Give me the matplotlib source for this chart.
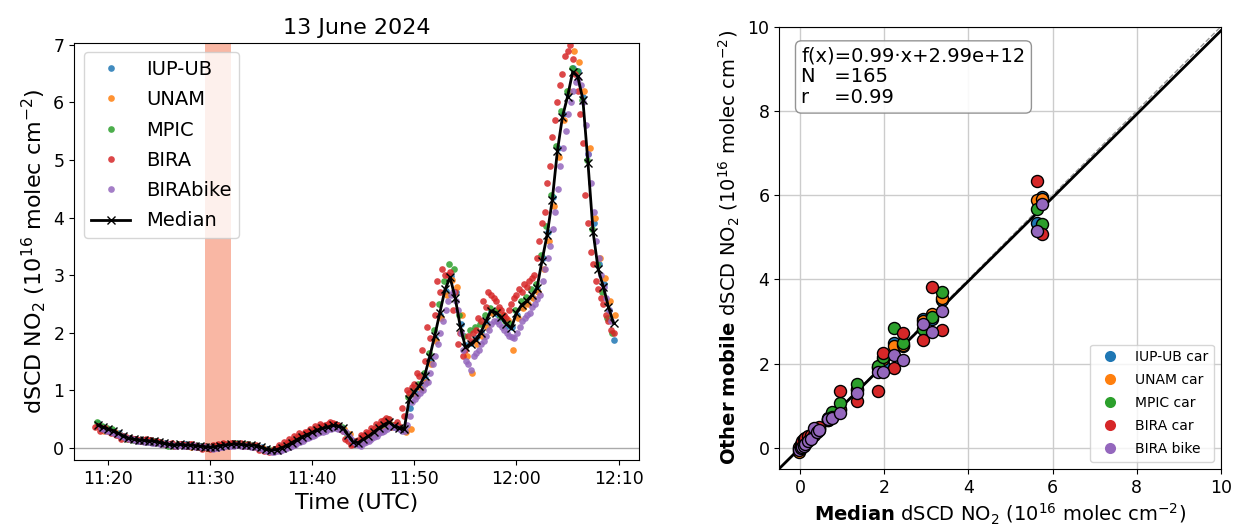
import numpy as np
import pandas as pd
import matplotlib
matplotlib.use("Agg")
import matplotlib.pyplot as plt
import matplotlib.dates as mdates
from matplotlib.lines import Line2D

# ---------------- data: time series (10^16 molec cm^-2) ----------------
start_time = "2024-06-13 11:19:00"
step_min = 0.5

median_vals = [0.40, 0.36, 0.33, 0.30, 0.25, 0.21, 0.17, 0.15, 0.14, 0.13,
               0.12, 0.12, 0.10, 0.08, 0.06, 0.05, 0.06, 0.05, 0.05, 0.04,
               0.03, 0.02, 0.01, 0.02, 0.04, 0.05, 0.06, 0.07, 0.06, 0.05,
               0.05, 0.04, 0.01, -0.02, -0.04, -0.03, 0.00, 0.04, 0.09, 0.14,
               0.19, 0.23, 0.27, 0.31, 0.34, 0.36, 0.39, 0.38, 0.35, 0.22,
               0.10, 0.09, 0.15, 0.20, 0.27, 0.34, 0.40, 0.45, 0.38, 0.35,
               0.32, 0.85, 0.97, 1.08, 1.25, 1.58, 1.95, 2.35, 2.75, 2.96,
               2.60, 2.10, 1.75, 1.80, 1.88, 2.00, 2.20, 2.38, 2.35, 2.27,
               2.15, 2.08, 2.35, 2.48, 2.55, 2.65, 2.77, 3.25, 3.70, 4.30,
               5.15, 5.75, 6.10, 6.53, 6.45, 6.05, 4.95, 3.75, 3.10, 2.80,
               2.45, 2.17]

iup_vals = [0.43, 0.36, 0.32, 0.29, 0.25, 0.20, 0.17, 0.15, 0.13, 0.14, 0.11, 0.12,
            0.09, 0.08, 0.07, 0.05, 0.05, 0.06, 0.04, 0.04, 0.03, 0.01, 0.00, 0.02,
            0.03, 0.05, 0.06, 0.06, 0.07, 0.05, 0.04, 0.03, 0.02, -0.02, -0.05, -0.03,
            0.01, 0.05, 0.08, 0.14, 0.18, 0.22, 0.26, 0.30, 0.33, 0.36, 0.38, 0.39,
            0.34, 0.21, 0.11, 0.09, 0.14, 0.20, 0.26, 0.33, 0.38, 0.43, 0.37, 0.33,
            0.30, 0.70, 0.95, 1.05, 1.22, 1.55, 1.90, 2.30, 2.72, 2.98, 2.70, 2.15,
            1.78, 1.82, 1.90, 2.02, 2.18, 2.36, 2.33, 2.25, 2.12, 2.10, 2.30, 2.45,
            2.52, 2.62, 2.75, 3.30, 3.75, 4.35, 5.20, 5.80, 6.15, 6.60, 6.55, 6.10,
            5.10, 3.90, 3.20, 2.85, 2.40, 1.88]

unam_vals = [0.38, 0.30, 0.28, 0.27, 0.22, 0.19, 0.16, 0.14, 0.12, 0.11, 0.12, 0.10,
             0.08, 0.06, 0.05, 0.04, 0.05, 0.03, 0.02, 0.03, 0.01, 0.00, -0.01, 0.01,
             0.03, 0.04, 0.05, 0.06, 0.05, 0.04, 0.03, 0.01, -0.01, -0.04, -0.06, -0.04,
             -0.01, 0.02, 0.07, 0.11, 0.16, 0.20, 0.24, 0.28, 0.31, 0.34, 0.37, 0.36,
             0.33, 0.24, 0.12, 0.08, 0.12, 0.18, 0.24, 0.31, 0.37, 0.42, 0.40, 0.33,
             0.28, 0.32, 0.90, 1.02, 1.15, 1.45, 1.85, 2.25, 2.65, 2.92, 2.80, 2.30,
             1.60, 1.30, 1.80, 1.95, 2.10, 2.35, 2.40, 2.30, 2.22, 1.70, 2.25, 2.42,
             2.50, 2.60, 2.70, 3.10, 3.60, 4.20, 5.05, 5.70, 6.20, 6.90, 6.70, 6.20,
             5.20, 4.00, 3.30, 2.95, 2.55, 2.30]

mpic_vals = [0.45, 0.38, 0.34, 0.33, 0.24, 0.20, 0.16, 0.13, 0.12, 0.11, 0.10, 0.11,
             0.09, 0.07, 0.03, 0.04, 0.07, 0.04, 0.05, 0.03, 0.04, 0.02, 0.02, 0.03,
             0.04, 0.06, 0.05, 0.08, 0.06, 0.06, 0.05, 0.03, 0.00, -0.03, -0.04, -0.02,
             0.01, 0.05, 0.10, 0.15, 0.20, 0.24, 0.28, 0.32, 0.35, 0.37, 0.40, 0.39,
             0.36, 0.24, 0.10, 0.10, 0.16, 0.22, 0.28, 0.36, 0.42, 0.50, 0.40, 0.36,
             0.33, 0.88, 1.00, 1.10, 1.30, 1.65, 2.05, 2.50, 2.90, 3.20, 3.10, 2.30,
             1.95, 2.05, 2.10, 2.15, 2.30, 2.42, 2.38, 2.28, 2.20, 2.15, 2.40, 2.55,
             2.62, 2.75, 2.85, 3.35, 3.85, 4.40, 5.25, 5.85, 6.20, 6.60, 6.55, 6.05,
             5.00, 3.80, 3.20, 2.70, 2.25, 2.00]

bira_vals = [0.36, 0.30, 0.34, 0.25, 0.22, 0.16, 0.18, 0.17, 0.15, 0.12, 0.15, 0.13,
             0.11, 0.09, 0.06, 0.08, 0.05, 0.07, 0.03, 0.06, 0.02, -0.02, 0.00, 0.05,
             0.06, 0.08, 0.06, 0.09, 0.07, 0.04, 0.06, 0.02, -0.03, -0.06, -0.08, -0.02,
             0.05, 0.10, 0.16, 0.20, 0.25, 0.28, 0.32, 0.38, 0.42, 0.40, 0.44, 0.42,
             0.33, 0.15, 0.05, 0.12, 0.22, 0.28, 0.34, 0.42, 0.46, 0.52, 0.36, 0.45,
             0.70, 1.00, 1.05, 1.30, 1.70, 2.10, 2.50, 2.90, 3.10, 3.00, 2.40, 1.80,
             1.60, 1.95, 2.00, 2.25, 2.55, 2.70, 2.60, 2.45, 2.30, 2.40, 2.60, 2.75,
             2.85, 2.90, 3.00, 3.60, 4.10, 4.90, 5.70, 6.30, 6.80, 7.00, 6.50, 5.80,
             4.40, 3.40, 2.90, 2.60, 2.30, 2.05]

bira_vals_b = [0.38, 0.35, 0.30, 0.28, 0.22, 0.20, 0.16, 0.16, 0.13, 0.14, 0.13, 0.10,
               0.10, 0.07, 0.07, 0.04, 0.06, 0.05, 0.06, 0.03, 0.01, 0.03, -0.02, 0.04,
               0.05, 0.07, 0.08, 0.06, 0.08, 0.05, 0.04, 0.05, 0.00, -0.04, -0.06, -0.01,
               0.02, 0.08, 0.12, 0.18, 0.22, 0.27, 0.30, 0.35, 0.38, 0.41, 0.43, 0.40,
               0.30, 0.12, 0.06, 0.14, 0.20, 0.25, 0.32, 0.40, 0.48, 0.50, 0.40, 0.38,
               0.55, 0.95, 1.10, 1.25, 1.50, 1.90, 2.30, 2.70, 3.00, 3.05, 2.70, 2.00,
               1.70, 1.85, 2.05, 2.20, 2.45, 2.65, 2.55, 2.40, 2.25, 2.50, 2.65, 2.70,
               2.80, 2.95, 3.30, 3.90, 4.60, 5.40, 6.00, 6.50, 6.90, 6.75, 6.20, 5.30,
               3.90, 3.20, 2.75, 2.50, 2.20, 2.00]

birabike_vals = [0.35, 0.30, 0.28, 0.24, 0.20, 0.17, 0.15, 0.12, 0.11, 0.10, 0.09, 0.08,
                 0.07, 0.06, 0.05, 0.04, 0.03, 0.04, 0.05, 0.03, 0.02, 0.01, -0.02, 0.00,
                 0.02, 0.03, 0.04, 0.05, 0.04, 0.03, 0.02, 0.00, -0.03, -0.06, -0.07, -0.05,
                 -0.02, 0.01, 0.05, 0.10, 0.15, 0.19, 0.23, 0.27, 0.30, 0.33, 0.35, 0.34,
                 0.28, 0.16, 0.06, 0.04, 0.10, 0.15, 0.21, 0.28, 0.33, 0.38, 0.35, 0.30,
                 0.40, 0.80, 0.90, 1.00, 1.15, 1.45, 1.80, 2.20, 2.55, 2.70, 2.40, 1.70,
                 1.45, 1.60, 1.70, 1.85, 2.05, 2.20, 2.15, 2.05, 1.95, 1.90, 2.10, 2.25,
                 2.35, 2.50, 2.65, 3.10, 3.50, 4.10, 4.90, 5.50, 6.00, 6.35, 6.30, 5.60,
                 4.60, 3.60, 3.00, 2.60, 2.20]

birabike_vals_b = [0.33, 0.29, 0.26, 0.22, 0.18, 0.16, 0.13, 0.12, 0.10, 0.10, 0.08, 0.07,
                   0.06, 0.05, 0.04, 0.05, 0.04, 0.03, 0.02, 0.02, 0.01, -0.01, -0.01, 0.01,
                   0.03, 0.04, 0.05, 0.04, 0.03, 0.02, 0.01, -0.02, -0.05, -0.07, -0.06, -0.03,
                   0.00, 0.04, 0.08, 0.12, 0.17, 0.21, 0.25, 0.28, 0.32, 0.34, 0.33, 0.30,
                   0.20, 0.10, 0.05, 0.08, 0.12, 0.18, 0.25, 0.30, 0.36, 0.37, 0.32, 0.30,
                   0.55, 0.85, 0.95, 1.10, 1.30, 1.60, 2.00, 2.40, 2.65, 2.55, 2.00, 1.50,
                   1.35, 1.65, 1.80, 1.95, 2.15, 2.20, 2.10, 2.00, 1.92, 2.00, 2.20, 2.30,
                   2.45, 2.58, 2.90, 3.30, 3.80, 4.50, 5.20, 5.80, 6.20, 6.40, 6.00, 5.10,
                   4.10, 3.30, 2.80, 2.40]

series_names = ["IUP-UB", "UNAM", "MPIC", "BIRA", "BIRAbike"]
series_vals = [[iup_vals], [unam_vals], [mpic_vals],
               [bira_vals, bira_vals_b], [birabike_vals, birabike_vals_b]]
series_time_offset_s = [[3], [9], [-6], [-15, 0], [18, 33]]

shade_start = "2024-06-13 11:29:30"
shade_end = "2024-06-13 11:32:00"

# ---------------- data: scatter (median vs. other) ----------------
median_x = [-0.03, 0.02, 0.05, 0.08, 0.12, 0.18, 0.25, 0.33, 0.40, 0.45, 0.65, 0.75,
            0.95, 1.34, 1.84, 1.96, 2.22, 2.45, 2.92, 3.13, 3.38, 5.63, 5.76]
iup_y = [-0.02, 0.03, 0.06, 0.08, 0.13, 0.18, 0.27, 0.38, 0.44, 0.48, 0.67, 0.76,
         0.93, 1.40, 1.90, 1.98, 2.48, 2.42, 3.07, 3.05, 3.50, 5.35, 5.96]
unam_y = [-0.11, 0.00, 0.04, 0.10, 0.10, 0.20, 0.24, 0.35, 0.40, 0.43, 0.66, 0.72,
          0.90, 1.38, 1.92, 2.10, 2.42, 2.43, 3.00, 3.17, 3.55, 5.88, 5.92]
mpic_y = [0.00, 0.05, 0.06, 0.10, 0.15, 0.18, 0.27, 0.36, 0.42, 0.46, 0.70, 0.86,
          1.06, 1.51, 1.95, 2.15, 2.85, 2.50, 2.81, 3.10, 3.69, 5.66, 5.31]
bira_y = [0.02, 0.10, 0.15, 0.22, 0.24, 0.27, 0.30, 0.30, 0.45, 0.50, 0.68, 0.74,
          1.36, 1.12, 1.34, 2.25, 1.90, 2.73, 2.56, 3.81, 2.80, 6.33, 5.07]
birabike_y = [-0.05, 0.00, 0.03, 0.05, 0.08, 0.15, 0.22, 0.46, 0.38, 0.42, 0.68, 0.70,
              0.82, 1.31, 1.80, 1.79, 2.20, 2.08, 2.95, 2.76, 3.24, 5.14, 5.78]
scatter_names = ["IUP-UB car", "UNAM car", "MPIC car", "BIRA car", "BIRA bike"]
scatter_vals = [iup_y, unam_y, mpic_y, bira_y, birabike_y]

fit_slope = 0.99
fit_offset = 2.99e12 / 1e16
fit_text = "f(x)=0.99·x+2.99e+12\nN   =165\nr    =0.99"

colors = ["#1f77b4", "#ff7f0e", "#2ca02c", "#d62728", "#9467bd"]

# ---------------- figure ----------------
fig = plt.figure(figsize=(12.33, 5.25), dpi=100)
ax1 = fig.add_axes([0.060, 0.124, 0.458, 0.795])
ax2 = fig.add_axes([0.632, 0.107, 0.358, 0.842])

t0 = pd.Timestamp(start_time)

ax1.axvspan(pd.Timestamp(shade_start), pd.Timestamp(shade_end),
            color="#f9b09a", alpha=0.9, lw=0, zorder=0)
ax1.axhline(0, color="#aaaaaa", lw=1.0, zorder=0.5)

for name, val_sets, offs, c in zip(series_names, series_vals, series_time_offset_s, colors):
    for j, (vals, off) in enumerate(zip(val_sets, offs)):
        times = t0 + pd.to_timedelta(np.arange(len(vals)) * step_min * 60 + off, unit="s")
        ax1.plot(times, vals, "o", ms=4.8, color=c, alpha=0.85, mec="none",
                 label=name if j == 0 else None, zorder=2)

med_times = t0 + pd.to_timedelta(np.arange(len(median_vals)) * step_min * 60, unit="s")
ax1.plot(med_times, median_vals, "-x", color="black", lw=2, ms=6, mew=1.0,
         label="Median", zorder=3)

ax1.set_xlim(pd.Timestamp("2024-06-13 11:16:40"), pd.Timestamp("2024-06-13 12:11:58"))
ax1.set_ylim(-0.21, 7.04)
ax1.xaxis.set_major_locator(mdates.MinuteLocator(byminute=[0, 10, 20, 30, 40, 50]))
ax1.xaxis.set_major_formatter(mdates.DateFormatter("%H:%M"))
ax1.tick_params(labelsize=12.5)
ax1.set_xlabel("Time (UTC)", fontsize=16)
ax1.set_ylabel(r"dSCD NO$_2$ (10$^{16}$ molec cm$^{-2}$)", fontsize=16)
ax1.set_title("13 June 2024", fontsize=16)
ax1.legend(loc="upper left", fontsize=14, handlelength=2.0, markerscale=1.0,
           borderpad=0.4, labelspacing=0.58)

# ---------------- right panel ----------------
ax2.grid(True, color="#cccccc", lw=1.0, zorder=0)
line_x = np.array([-0.5, 10])
ax2.plot(line_x, line_x, "--", color="#999999", lw=1.0, zorder=1)
ax2.plot(line_x, fit_slope * line_x + fit_offset, "-", color="black", lw=2, zorder=2)
for name, yv, c in zip(scatter_names, scatter_vals, colors):
    ax2.scatter(median_x, yv, s=75, color=c, edgecolors="black", linewidths=1.0,
                zorder=3)
ax2.set_xlim(-0.5, 10)
ax2.set_ylim(-0.5, 10)
ax2.set_xticks([0, 2, 4, 6, 8, 10])
ax2.set_yticks([0, 2, 4, 6, 8, 10])
ax2.tick_params(labelsize=12.5)
ax2.set_xlabel(r"$\mathbf{Median}$ dSCD NO$_2$ (10$^{16}$ molec cm$^{-2}$)", fontsize=14)
ax2.set_ylabel(r"$\mathbf{Other\ mobile}$ dSCD NO$_2$ (10$^{16}$ molec cm$^{-2}$)",
               fontsize=14)
ax2.text(0.05, 0.955, fit_text, transform=ax2.transAxes, fontsize=14, va="top",
         ha="left", linespacing=1.12,
         bbox=dict(boxstyle="round,pad=0.3", facecolor="white", edgecolor="#888888",
                   alpha=0.9))
handles = [Line2D([], [], marker="o", ls="none", color=c, ms=8, mec="none")
           for c in colors]
ax2.legend(handles, scatter_names, loc="lower right", fontsize=10,
           handletextpad=0.8, labelspacing=0.65)

fig.savefig("out.png", dpi=100)
